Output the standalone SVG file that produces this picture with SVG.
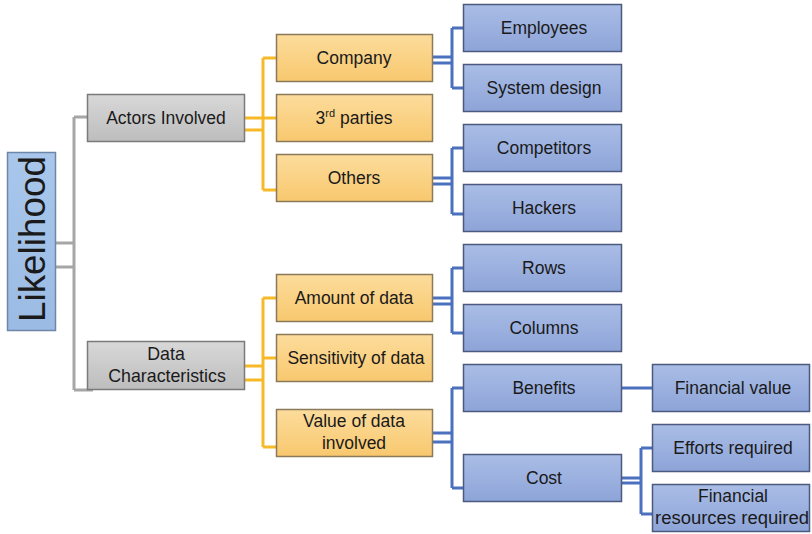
<svg xmlns="http://www.w3.org/2000/svg" width="812" height="534" viewBox="0 0 812 534">
<defs>
<linearGradient id="gBlue" x1="0" y1="0" x2="0" y2="1"><stop offset="0" stop-color="#AABDE6"/><stop offset="1" stop-color="#8DA4D8"/></linearGradient>
<linearGradient id="gOrange" x1="0" y1="0" x2="0" y2="1"><stop offset="0" stop-color="#FCDC9C"/><stop offset="1" stop-color="#F8C86E"/></linearGradient>
<linearGradient id="gGray" x1="0" y1="0" x2="0" y2="1"><stop offset="0" stop-color="#D8D8D8"/><stop offset="1" stop-color="#BDBDBD"/></linearGradient>
<linearGradient id="gRoot" x1="0" y1="0" x2="0" y2="1"><stop offset="0" stop-color="#A9C7EB"/><stop offset="1" stop-color="#9BBBE4"/></linearGradient>
</defs>
<style>
text{font-family:"Liberation Sans",Arial,sans-serif;font-size:17.5px;fill:#1a1a1a;text-anchor:middle}
text.big{font-size:37px}
text.dc{font-size:17.8px}
.blue{fill:url(#gBlue);stroke:#4B5A7E;stroke-width:1.5}
.orange{fill:url(#gOrange);stroke:#8A7A58;stroke-width:1.5}
.gray{fill:url(#gGray);stroke:#7A7A7A;stroke-width:1.5}
.root{fill:url(#gRoot);stroke:#6E86A8;stroke-width:1.5}
.cg{fill:none;stroke:#A6A6A6;stroke-width:3}
.co{fill:none;stroke:#F7B928;stroke-width:3}
.cb{fill:none;stroke:#4A70BE;stroke-width:3}
</style>
<g id="connectors">
<path class="cg" d="M56 243H74M56 267H74M74 117V390M74 117H88M74 390H93"/>
<path class="co" d="M244 118H263M244 130H263M263 58V190M263 58H276M263 118H276M263 190H276"/>
<path class="co" d="M244 366H263M244 380H263M263 298V447M263 298H276M263 358H276M263 447H276"/>
<path class="cb" d="M432 57H452M432 63H452M452 28V88M452 28H463M452 88H463"/>
<path class="cb" d="M432 178H452M432 184H452M452 148V214M452 148H463M452 214H463"/>
<path class="cb" d="M432 298H452M432 304H452M452 268V333M452 268H463M452 333H463"/>
<path class="cb" d="M432 433H452M432 442H452M452 388V488M452 388H463M452 488H463"/>
<path class="cb" d="M622 388H652"/>
<path class="cb" d="M622 478H641M622 483H641M641 448V514M641 448H652M641 514H652"/>
</g>
<g id="likelihood"><rect class="root" x="7.5" y="152.5" width="48" height="178"/><text class="big" transform="translate(45 239) rotate(-90)" textLength="166" lengthAdjust="spacingAndGlyphs">Likelihood</text></g>
<g id="actors"><rect class="gray" x="87.5" y="94.5" width="157" height="47"/><text x="166" y="124">Actors Involved</text></g>
<g id="data"><rect class="gray" x="87.5" y="341.5" width="157" height="48"/><text class="dc" x="166" y="360">Data</text><text class="dc" x="167" y="382">Characteristics</text></g>
<g id="company"><rect class="orange" x="276.5" y="34.5" width="156" height="47"/><text x="354" y="64">Company</text></g>
<g id="third"><rect class="orange" x="276.5" y="94.5" width="156" height="47"/><text x="354" y="124">3<tspan font-size="11" dy="-7">rd</tspan><tspan dy="7"> parties</tspan></text></g>
<g id="others"><rect class="orange" x="276.5" y="154.5" width="156" height="47"/><text x="354" y="184">Others</text></g>
<g id="amount"><rect class="orange" x="276.5" y="274.5" width="156" height="47"/><text x="354" y="304">Amount of data</text></g>
<g id="sensitivity"><rect class="orange" x="276.5" y="334.5" width="156" height="47"/><text x="356" y="364">Sensitivity of data</text></g>
<g id="value"><rect class="orange" x="276.5" y="409.5" width="156" height="47"/><text x="354" y="427">Value of data</text><text x="354" y="449">involved</text></g>
<g id="employees"><rect class="blue" x="463.5" y="4.5" width="158" height="47"/><text x="544" y="34">Employees</text></g>
<g id="systemdesign"><rect class="blue" x="463.5" y="64.5" width="158" height="47"/><text x="544" y="94">System design</text></g>
<g id="competitors"><rect class="blue" x="463.5" y="124.5" width="158" height="47"/><text x="544" y="154">Competitors</text></g>
<g id="hackers"><rect class="blue" x="463.5" y="184.5" width="158" height="47"/><text x="544" y="214">Hackers</text></g>
<g id="rows"><rect class="blue" x="463.5" y="244.5" width="158" height="47"/><text x="544" y="274">Rows</text></g>
<g id="columns"><rect class="blue" x="463.5" y="304.5" width="158" height="47"/><text x="544" y="334">Columns</text></g>
<g id="benefits"><rect class="blue" x="463.5" y="364.5" width="158" height="47"/><text x="544" y="394">Benefits</text></g>
<g id="cost"><rect class="blue" x="463.5" y="454.5" width="158" height="47"/><text x="544" y="484">Cost</text></g>
<g id="financialvalue"><rect class="blue" x="652.5" y="364.5" width="157" height="47"/><text x="733" y="394">Financial value</text></g>
<g id="efforts"><rect class="blue" x="652.5" y="424.5" width="157" height="47"/><text x="733" y="454">Efforts required</text></g>
<g id="financialresources"><rect class="blue" x="652.5" y="484.5" width="157" height="47"/><text x="733" y="502">Financial</text><text x="732" y="524" textLength="154" lengthAdjust="spacingAndGlyphs">resources required</text></g>
</svg>
